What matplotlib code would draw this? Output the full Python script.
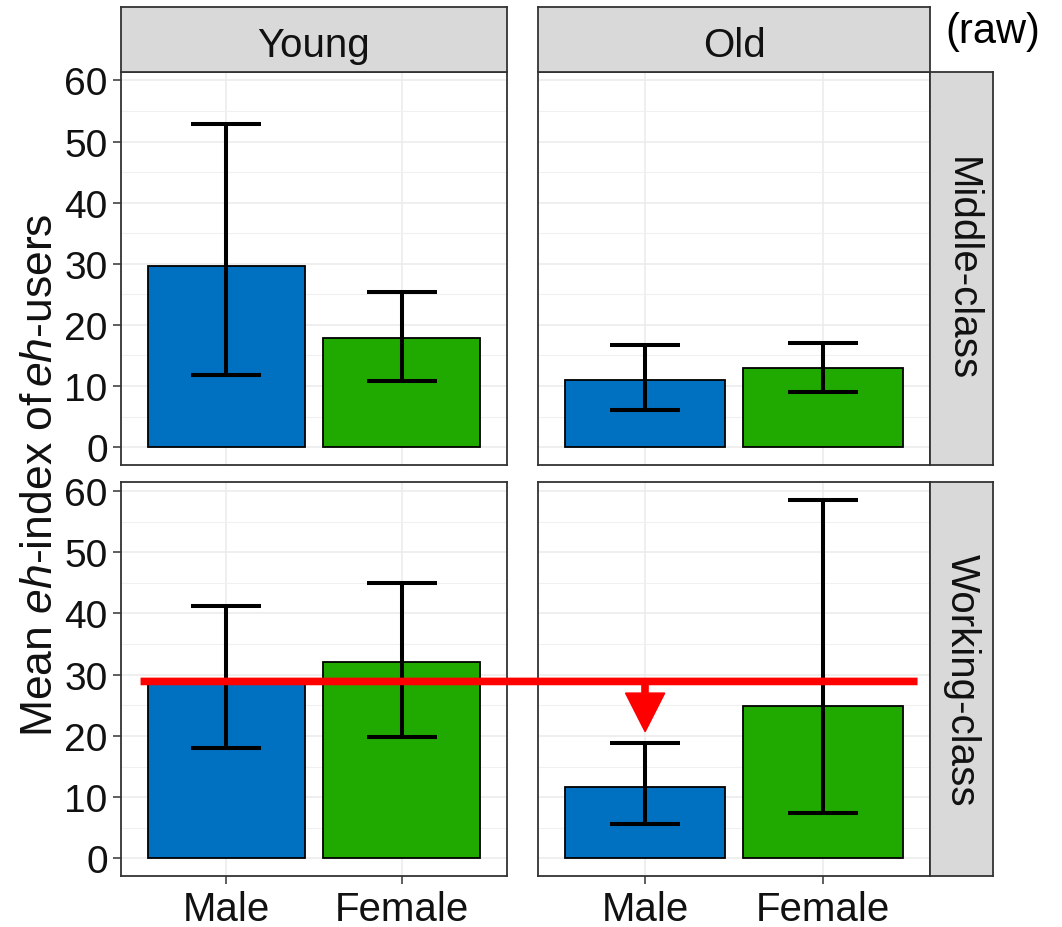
import matplotlib
matplotlib.use('Agg')
import matplotlib.pyplot as plt
from matplotlib.patches import ConnectionPatch, Polygon

plt.rcParams['font.family'] = ['Liberation Sans', 'DejaVu Sans']
plt.rcParams['mathtext.fontset'] = 'custom'
plt.rcParams['mathtext.rm'] = 'Liberation Sans'
plt.rcParams['mathtext.it'] = 'Liberation Sans:italic'

ages = ['Young', 'Old']
classes = ['Middle-class', 'Working-class']
sexes = ['Male', 'Female']
bar_colors = ['#0070c0', '#20aa00']

# mean eh-index with lower / upper error limits, [Male, Female]
mc_young_mean = [29.6, 17.9]
mc_young_lo = [11.8, 10.85]
mc_young_hi = [52.9, 25.3]
mc_old_mean = [11.0, 13.0]
mc_old_lo = [6.0, 9.1]
mc_old_hi = [16.7, 17.0]
wc_young_mean = [28.9, 32.0]
wc_young_lo = [18.1, 19.85]
wc_young_hi = [41.2, 45.0]
wc_old_mean = [11.7, 24.85]
wc_old_lo = [5.65, 7.4]
wc_old_hi = [18.8, 58.5]

panels = {
    ('Middle-class', 'Young'): (mc_young_mean, mc_young_lo, mc_young_hi),
    ('Middle-class', 'Old'): (mc_old_mean, mc_old_lo, mc_old_hi),
    ('Working-class', 'Young'): (wc_young_mean, wc_young_lo, wc_young_hi),
    ('Working-class', 'Old'): (wc_old_mean, wc_old_lo, wc_old_hi),
}

W, H = 1062, 928
fig = plt.figure(figsize=(W / 100, H / 100), dpi=100)


def rect(x0, y0, x1, y1):
    # pixel box (from top-left) -> figure fraction
    return [x0 / W, 1 - y1 / H, (x1 - x0) / W, (y1 - y0) / H]


col_x = [(121.3, 506.7), (538.3, 930.0)]
row_y = [(72.7, 466.0), (483.3, 877.3)]
strip_top = 8.3
strip_right = 992.7
border = '#333333'

ymax = max(max(v[2]) for v in panels.values())
ylim = (-0.05 * ymax, ymax * 1.05)

axes = {}
for r, cls in enumerate(classes):
    for c, age in enumerate(ages):
        x0, x1 = col_x[c]
        y0, y1 = row_y[r]
        ax = fig.add_axes(rect(x0, y0, x1, y1))
        mean, lo, hi = panels[(cls, age)]
        xs = range(len(sexes))
        ax.set_axisbelow(True)
        ax.bar(xs, mean, width=0.9, color=bar_colors, edgecolor='black',
               linewidth=1.3, zorder=2)
        err = [[m - l for m, l in zip(mean, lo)], [h - m for m, h in zip(mean, hi)]]
        ax.errorbar(xs, mean, yerr=err, fmt='none', ecolor='black',
                    elinewidth=2.9, capsize=25, capthick=2.9, zorder=3)
        ax.set_xlim(-0.6, 1.6)
        ax.set_ylim(*ylim)
        ax.set_yticks(range(0, 61, 10))
        ax.set_yticks(range(5, 60, 10), minor=True)
        ax.set_xticks(list(xs))
        ax.set_xticklabels(sexes)
        ax.grid(True, which='major', color='#ebebeb', linewidth=1.1)
        ax.grid(True, which='minor', axis='y', color='#f0f0f0', linewidth=0.8)
        ax.tick_params(which='minor', length=0)
        ax.tick_params(which='major', length=5.8, width=1.1, color=border,
                       labelcolor='#111111', pad=4)
        ax.tick_params(axis='y', labelsize=28)
        ax.tick_params(axis='x', labelsize=29)
        if c > 0:
            ax.tick_params(axis='y', left=False, labelleft=False)
        if r == 0:
            ax.tick_params(axis='x', bottom=False, labelbottom=False)
        for s in ax.spines.values():
            s.set_color(border)
            s.set_linewidth(1.3)
        axes[(cls, age)] = ax

        # facet strips
        if r == 0:
            st = fig.add_axes(rect(x0, strip_top, x1, y0))
            st.set_facecolor('#d9d9d9')
            st.set_xticks([])
            st.set_yticks([])
            for s in st.spines.values():
                s.set_color(border)
                s.set_linewidth(1.3)
            st.text(0.5, 0.42, age, ha='center', va='center', fontsize=29,
                    color='#111111', transform=st.transAxes)
        if c == 1:
            st = fig.add_axes(rect(x1, y0, strip_right, y1))
            st.set_facecolor('#d9d9d9')
            st.set_xticks([])
            st.set_yticks([])
            for s in st.spines.values():
                s.set_color(border)
                s.set_linewidth(1.3)
            st.text(0.5, 0.5, cls, ha='center', va='center', fontsize=29,
                    rotation=-90, color='#111111', transform=st.transAxes)

fig.text(41 / W, 1 - 475 / H, r'Mean $\mathit{eh}$-index of$\,\mathit{eh}$-users',
         rotation=90, ha='center', va='center', fontsize=32, color='#111111')
fig.text(993 / W, 1 - 32 / H, '(raw)', ha='center', va='center', fontsize=30)

# reference line at the young working-class male mean, with arrow down to the old males
ax_bl = axes[('Working-class', 'Young')]
ax_br = axes[('Working-class', 'Old')]
ref = wc_young_mean[0]
line = ConnectionPatch(xyA=(-0.49, ref), coordsA=ax_bl.transData,
                       xyB=(1.53, ref), coordsB=ax_br.transData,
                       color='red', linewidth=5.5, capstyle='butt', zorder=10)
fig.add_artist(line)
ax_br.plot([0, 0], [ref, 27.0], color='red', linewidth=5.5,
           solid_capstyle='butt', zorder=10)
ax_br.add_patch(Polygon([(-0.11, 27.0), (0.11, 27.0), (0, 20.7)],
                        closed=True, color='red', zorder=10))

fig.savefig('out.png', dpi=100)
